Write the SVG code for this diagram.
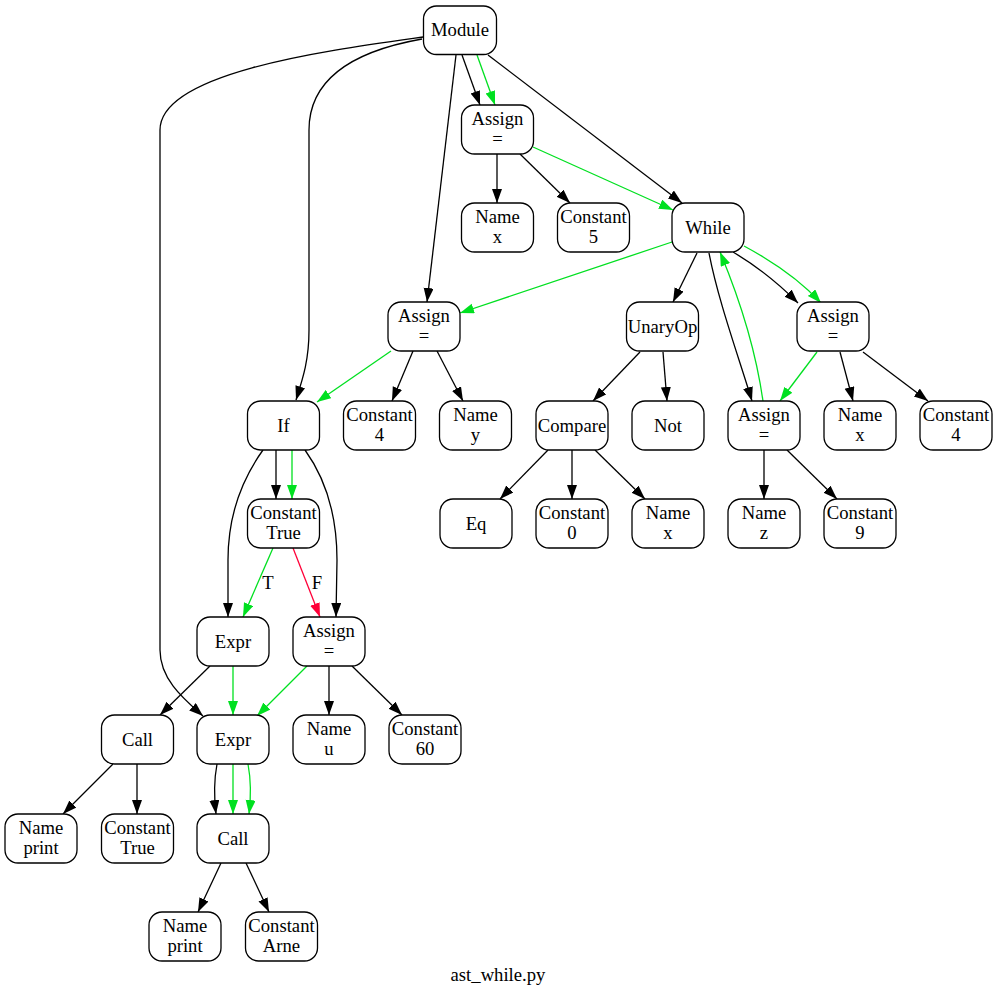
<svg xmlns="http://www.w3.org/2000/svg" width="997" height="993" viewBox="0 0 997 993" font-family="'Liberation Serif', 'Times New Roman', 'DejaVu Serif', serif" font-size="18.67">
  <style>
    .node rect { fill: #ffffff; stroke: #000000; stroke-width: 1.3; }
    text { fill: #000000; text-anchor: middle; }
    .edges path { fill: none; stroke-width: 1.3; }
    .ast { stroke: #000000; marker-end: url(#arrow-ast); }
    .flow { stroke: #00e020; marker-end: url(#arrow-flow); }
    .neg { stroke: #ff0038; marker-end: url(#arrow-neg); }
  </style>
  <defs>
    <marker id="arrow-ast" markerUnits="userSpaceOnUse" markerWidth="15" markerHeight="11" refX="14" refY="5" orient="auto">
      <path d="M0,0 L14,5 L0,10 z" fill="#000000"/>
    </marker>
    <marker id="arrow-flow" markerUnits="userSpaceOnUse" markerWidth="15" markerHeight="11" refX="14" refY="5" orient="auto">
      <path d="M0,0 L14,5 L0,10 z" fill="#00e020"/>
    </marker>
    <marker id="arrow-neg" markerUnits="userSpaceOnUse" markerWidth="15" markerHeight="11" refX="14" refY="5" orient="auto">
      <path d="M0,0 L14,5 L0,10 z" fill="#ff0038"/>
    </marker>
  </defs>
  <rect width="997" height="993" fill="#ffffff"/>

  <!-- connectors -->
  <g class="edges">
    <!-- Module children -->
    <path class="ast" d="M462,55 L480,105"/>
    <path class="flow" d="M477,55 L495,105"/>
    <path class="ast" d="M488,55 L682,203"/>
    <path class="ast" d="M456,55 L427,302"/>
    <path class="ast" d="M422,39 C360,50 309,75 309,130 L309,330 C309,360 303,378 296,400"/>
    <path class="ast" d="M423,37 C330,50 160,72 160,130 L160,650 C160,680 185,700 203,716"/>
    <!-- first Assign -->
    <path class="ast" d="M497,154 L497,203"/>
    <path class="ast" d="M520,154 L570,203"/>
    <path class="flow" d="M533,147 L673,210"/>
    <!-- While -->
    <path class="flow" d="M672,242 L460,313"/>
    <path class="ast" d="M697,253 L673,302"/>
    <path class="ast" d="M709,253 C718,300 738,355 752,401"/>
    <path class="flow" d="M763,401 C755,345 738,295 720,252"/>
    <path class="ast" d="M733,252 C755,265 780,285 798,303"/>
    <path class="flow" d="M744,246 C770,260 800,280 821,303"/>
    <!-- second Assign -->
    <path class="flow" d="M391,351 L317,402"/>
    <path class="ast" d="M413,351 L392,401"/>
    <path class="ast" d="M437,351 L463,401"/>
    <!-- UnaryOp / Compare -->
    <path class="ast" d="M640,352 L593,401"/>
    <path class="ast" d="M663,352 L667,401"/>
    <path class="ast" d="M548,450 L500,499"/>
    <path class="ast" d="M572,450 L572,499"/>
    <path class="ast" d="M595,450 L645,499"/>
    <!-- loop body assignments -->
    <path class="flow" d="M817,352 L780,401"/>
    <path class="ast" d="M840,352 L853,401"/>
    <path class="ast" d="M863,352 L928,401"/>
    <path class="ast" d="M764,450 L764,499"/>
    <path class="ast" d="M787,450 L837,499"/>
    <!-- If -->
    <path class="ast" d="M276,450 L276,499"/>
    <path class="flow" d="M292,450 L292,499"/>
    <path class="ast" d="M263,450 C245,475 228,510 228,560 L228,617"/>
    <path class="ast" d="M305,450 C323,475 337,510 337,560 L336,617"/>
    <path class="flow" d="M273,548 L243,617"/>
    <path class="neg" d="M293,548 L320,617"/>
    <!-- Expr / Assign below If -->
    <path class="ast" d="M210,666 L160,715"/>
    <path class="flow" d="M233,666 L233,715"/>
    <path class="flow" d="M307,666 L257,716"/>
    <path class="ast" d="M329,666 L329,715"/>
    <path class="ast" d="M352,666 L402,715"/>
    <!-- Calls -->
    <path class="ast" d="M113,764 L63,814"/>
    <path class="ast" d="M137,764 L137,814"/>
    <path class="ast" d="M217,764 C214,780 214,797 216,814"/>
    <path class="flow" d="M233,764 L233,814"/>
    <path class="flow" d="M248,764 C251,780 251,797 249,814"/>
    <path class="ast" d="M221,863 L198,912"/>
    <path class="ast" d="M246,863 L269,912"/>
  </g>

  <!-- edge labels -->
  <text x="268" y="589">T</text>
  <text x="317" y="589">F</text>

  <!-- nodes -->
  <g id="module" class="node"><rect x="423.5" y="6" width="73" height="48.5" rx="13"/><text x="460" y="36">Module</text></g>

  <g id="assign_x" class="node"><rect x="461.5" y="105" width="72" height="49" rx="13"/><text x="497.5" y="124.5">Assign</text><text x="497.5" y="144.5">=</text></g>

  <g id="name_x_1" class="node"><rect x="461.5" y="203" width="72" height="49" rx="13"/><text x="497.5" y="222.5">Name</text><text x="497.5" y="242.5">x</text></g>
  <g id="const_5" class="node"><rect x="557.5" y="203" width="72" height="49" rx="13"/><text x="593.5" y="222.5">Constant</text><text x="593.5" y="242.5">5</text></g>
  <g id="while" class="node"><rect x="672" y="203" width="72" height="49" rx="13"/><text x="708" y="233.5">While</text></g>

  <g id="assign_y" class="node"><rect x="388" y="302" width="72" height="49" rx="13"/><text x="424" y="321.5">Assign</text><text x="424" y="341.5">=</text></g>
  <g id="unaryop" class="node"><rect x="626.5" y="302" width="72" height="49" rx="13"/><text x="662.5" y="332.5">UnaryOp</text></g>
  <g id="assign_x_2" class="node"><rect x="797" y="302" width="72" height="49" rx="13"/><text x="833" y="321.5">Assign</text><text x="833" y="341.5">=</text></g>

  <g id="if" class="node"><rect x="247.5" y="401" width="72" height="49" rx="13"/><text x="283.5" y="431.5">If</text></g>
  <g id="const_4_a" class="node"><rect x="343.5" y="401" width="72" height="49" rx="13"/><text x="379.5" y="420.5">Constant</text><text x="379.5" y="440.5">4</text></g>
  <g id="name_y" class="node"><rect x="439.5" y="401" width="72" height="49" rx="13"/><text x="475.5" y="420.5">Name</text><text x="475.5" y="440.5">y</text></g>
  <g id="compare" class="node"><rect x="536" y="401" width="72" height="49" rx="13"/><text x="572" y="431.5">Compare</text></g>
  <g id="not" class="node"><rect x="632" y="401" width="72" height="49" rx="13"/><text x="668" y="431.5">Not</text></g>
  <g id="assign_z" class="node"><rect x="728" y="401" width="72" height="49" rx="13"/><text x="764" y="420.5">Assign</text><text x="764" y="440.5">=</text></g>
  <g id="name_x_2" class="node"><rect x="824" y="401" width="72" height="49" rx="13"/><text x="860" y="420.5">Name</text><text x="860" y="440.5">x</text></g>
  <g id="const_4_b" class="node"><rect x="920" y="401" width="72" height="49" rx="13"/><text x="956" y="420.5">Constant</text><text x="956" y="440.5">4</text></g>

  <g id="const_true_1" class="node"><rect x="247.5" y="499" width="72" height="49" rx="13"/><text x="283.5" y="518.5">Constant</text><text x="283.5" y="538.5">True</text></g>
  <g id="eq" class="node"><rect x="440" y="499" width="72" height="49" rx="13"/><text x="476" y="529.5">Eq</text></g>
  <g id="const_0" class="node"><rect x="536" y="499" width="72" height="49" rx="13"/><text x="572" y="518.5">Constant</text><text x="572" y="538.5">0</text></g>
  <g id="name_x_3" class="node"><rect x="632" y="499" width="72" height="49" rx="13"/><text x="668" y="518.5">Name</text><text x="668" y="538.5">x</text></g>
  <g id="name_z" class="node"><rect x="728" y="499" width="72" height="49" rx="13"/><text x="764" y="518.5">Name</text><text x="764" y="538.5">z</text></g>
  <g id="const_9" class="node"><rect x="824" y="499" width="72" height="49" rx="13"/><text x="860" y="518.5">Constant</text><text x="860" y="538.5">9</text></g>

  <g id="expr_1" class="node"><rect x="197" y="617" width="72" height="49" rx="13"/><text x="233" y="647.5">Expr</text></g>
  <g id="assign_u" class="node"><rect x="293" y="617" width="72" height="49" rx="13"/><text x="329" y="636.5">Assign</text><text x="329" y="656.5">=</text></g>

  <g id="call_1" class="node"><rect x="101.5" y="715" width="72" height="49" rx="13"/><text x="137.5" y="745.5">Call</text></g>
  <g id="expr_2" class="node"><rect x="197" y="715" width="72" height="49" rx="13"/><text x="233" y="745.5">Expr</text></g>
  <g id="name_u" class="node"><rect x="293" y="715" width="72" height="49" rx="13"/><text x="329" y="734.5">Name</text><text x="329" y="754.5">u</text></g>
  <g id="const_60" class="node"><rect x="389" y="715" width="72" height="49" rx="13"/><text x="425" y="734.5">Constant</text><text x="425" y="754.5">60</text></g>

  <g id="name_print_1" class="node"><rect x="5" y="814" width="72" height="49" rx="13"/><text x="41" y="833.5">Name</text><text x="41" y="853.5">print</text></g>
  <g id="const_true_2" class="node"><rect x="101.5" y="814" width="72" height="49" rx="13"/><text x="137.5" y="833.5">Constant</text><text x="137.5" y="853.5">True</text></g>
  <g id="call_2" class="node"><rect x="197" y="814" width="72" height="49" rx="13"/><text x="233" y="844.5">Call</text></g>

  <g id="name_print_2" class="node"><rect x="149" y="912" width="72" height="49" rx="13"/><text x="185" y="931.5">Name</text><text x="185" y="951.5">print</text></g>
  <g id="const_arne" class="node"><rect x="245.5" y="912" width="72" height="49" rx="13"/><text x="281.5" y="931.5">Constant</text><text x="281.5" y="951.5">Arne</text></g>

  <text x="498" y="981">ast_while.py</text>
</svg>
